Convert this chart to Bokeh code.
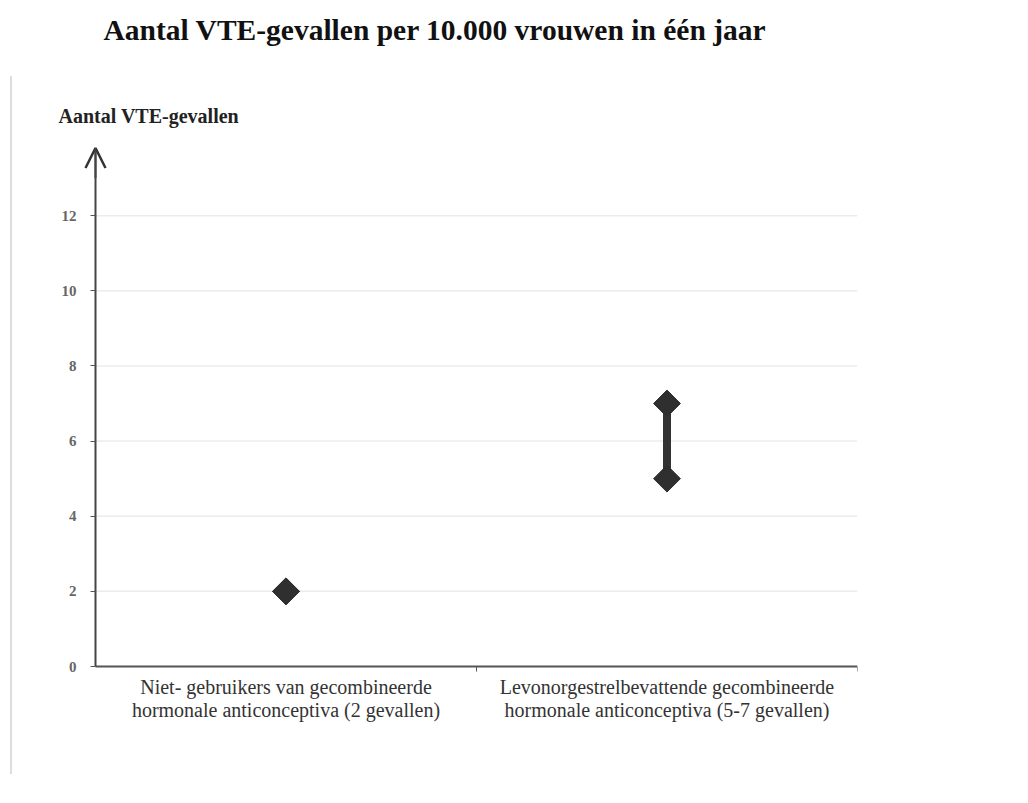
from bokeh.plotting import figure
from bokeh.models import (Range1d, FixedTicker, Arrow, OpenHead, ColumnDataSource, Title, InlineStyleSheet)
from bokeh.embed import file_html
from bokeh.resources import INLINE

title_text = "Aantal VTE-gevallen per 10.000 vrouwen in één jaar"
y_label = "Aantal VTE-gevallen"
categories = [
    "Niet- gebruikers van gecombineerde\nhormonale anticonceptiva (2 gevallen)",
    "Levonorgestrelbevattende gecombineerde\nhormonale anticonceptiva (5-7 gevallen)",
]
low_values = [2, 5]
high_values = [2, 7]
y_ticks = [0, 2, 4, 6, 8, 10, 12]
y_axis_top = 13.8
y_range_top = 14

# layout in pixels
W, H = 1010, 795
FR_LEFT, AXIS_X, FR_RIGHT = 40, 95, 857
FR_TOP, AXIS_Y, FR_BOTTOM = 140, 666, 728

n = len(categories)
xs = [i + 0.5 for i in range(n)]
x_start = -n * (AXIS_X - FR_LEFT) / (FR_RIGHT - AXIS_X)
y_start = -y_range_top * (FR_BOTTOM - AXIS_Y) / (AXIS_Y - FR_TOP)
src = ColumnDataSource(dict(x=xs, low=low_values, high=high_values))
grid_src = ColumnDataSource(dict(y=y_ticks[1:], x0=[0] * (len(y_ticks) - 1), x1=[n] * (len(y_ticks) - 1)))

p = figure(width=W, height=H, output_backend="svg", toolbar_location=None,
           x_range=Range1d(x_start, n), y_range=Range1d(y_start, y_range_top),
           min_border_left=FR_LEFT, min_border_right=W - FR_RIGHT,
           min_border_top=FR_TOP, min_border_bottom=H - FR_BOTTOM)
p.outline_line_color = None
p.background_fill_color = "white"
p.border_fill_color = "white"

serif = "Liberation Serif"

# title (outermost panel above the plot)
p.title.text = title_text
p.title.align = "left"
p.title.offset = 103 - FR_LEFT
p.title.standoff = 10
p.title.padding = dict(left=0, right=0, top=0, bottom=38)
p.title.text_font = serif
p.title.text_font_style = "bold"
p.title.text_font_size = "29.5px"
p.title.text_color = "#111111"

# y axis caption, directly above the plot frame
p.add_layout(Title(text=y_label, align="left", offset=58 - FR_LEFT, standoff=28, text_font=serif,
                   text_font_style="bold", text_font_size="20px", text_color="#222222"), "above")

# x axis
p.xaxis.fixed_location = 0
p.xaxis.ticker = FixedTicker(ticks=xs, minor_ticks=list(range(1, n + 1)))
p.xaxis.major_label_overrides = {x: c for x, c in zip(xs, categories)}
p.xaxis.bounds = (0, n)
p.xaxis.major_tick_out = 0
p.xaxis.major_tick_in = 0
p.xaxis.minor_tick_out = 5
p.xaxis.minor_tick_in = 0
p.xaxis.minor_tick_line_color = "#555555"
p.xaxis.axis_line_color = "#555555"
p.xaxis.axis_line_width = 2
p.xaxis.major_label_text_font = serif
p.xaxis.major_label_text_font_size = "20px"
p.xaxis.major_label_text_color = "#333333"
p.xaxis.major_label_text_line_height = 1.05
p.xaxis.major_label_standoff = 4
p.xgrid.visible = False
p.ygrid.visible = False

# y axis
p.yaxis.fixed_location = 0
p.yaxis.bounds = (0, y_axis_top)
p.yaxis.ticker = FixedTicker(ticks=y_ticks, minor_ticks=[])
p.yaxis.axis_line_color = "#444444"
p.yaxis.axis_line_width = 2
p.yaxis.major_tick_out = 5
p.yaxis.major_tick_in = 0
p.yaxis.major_tick_line_color = "#555555"
p.yaxis.major_label_text_font = serif
p.yaxis.major_label_text_font_style = "bold"
p.yaxis.major_label_text_font_size = "15px"
p.yaxis.major_label_text_color = "#666666"
p.yaxis.major_label_standoff = 14

# horizontal grid lines, from the y axis to the right edge
p.segment(x0="x0", y0="y", x1="x1", y1="y", source=grid_src, line_color="#ececec", line_width=1.5,
          level="underlay")

# arrow head on y axis
p.add_layout(Arrow(end=OpenHead(size=20, line_width=2.5, line_color="#333333"),
                   x_start=0, y_start=13.0, x_end=0, y_end=y_axis_top,
                   line_color="#444444", line_width=2))

# range bars and diamonds
p.segment(x0="x", y0="low", x1="x", y1="high", source=src, line_color="#333333", line_width=8)
p.scatter(x="x", y="low", source=src, marker="square", angle=0.785398, size=19,
          fill_color="#2f2f2f", line_color="#2f2f2f")
p.scatter(x="x", y="high", source=src, marker="square", angle=0.785398, size=19,
          fill_color="#2f2f2f", line_color="#2f2f2f")

# faint left border line of the original picture
p.stylesheets = [InlineStyleSheet(css=":host::after { content: ''; position: absolute; left: 10px; top: 76px; "
                                      "width: 2px; height: 698px; background: #dddddd; z-index: 5; pointer-events: none; }")]

open("out.html", "w").write(file_html(p, INLINE))
